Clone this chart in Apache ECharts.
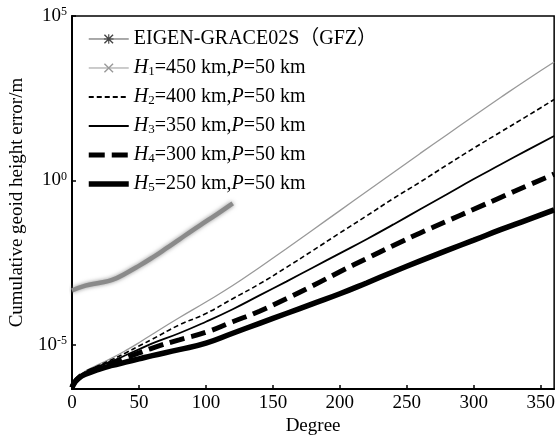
<!DOCTYPE html>
<html>
<head>
<meta charset="utf-8">
<script src="https://cdn.jsdelivr.net/npm/echarts@6/dist/echarts.min.js"></script>
<style>
  html, body { margin: 0; padding: 0; background: #fff; }
  #chart { width: 558px; height: 441px; }
</style>
</head>
<body>
<div id="chart"></div>
<script>
// degree (x) and log10 of cumulative geoid height error (y)
var degrees = [0, 2, 5, 10, 20, 30, 40, 50, 60, 80, 100, 120, 140, 160, 180, 200, 220, 240, 260, 280, 300, 320, 340, 360];
var h1 = [-6.3, -6.1, -5.95, -5.8, -5.6, -5.4, -5.18, -4.94, -4.68, -4.18, -3.7, -3.2, -2.65, -2.08, -1.5, -0.92, -0.34, 0.24, 0.82, 1.39, 1.96, 2.52, 3.07, 3.6];
var h2 = [-6.3, -6.12, -5.97, -5.83, -5.63, -5.45, -5.25, -5.04, -4.83, -4.4, -4.05, -3.6, -3.15, -2.65, -2.13, -1.6, -1.08, -0.55, -0.05, 0.47, 0.98, 1.47, 1.96, 2.46];
var h3 = [-6.3, -6.13, -5.98, -5.85, -5.66, -5.5, -5.32, -5.14, -4.96, -4.65, -4.3, -3.92, -3.5, -3.08, -2.65, -2.22, -1.79, -1.34, -0.88, -0.42, 0.04, 0.48, 0.92, 1.35];
var h4 = [-6.3, -6.14, -6.0, -5.87, -5.7, -5.55, -5.4, -5.25, -5.1, -4.85, -4.62, -4.3, -3.98, -3.6, -3.2, -2.78, -2.38, -1.98, -1.6, -1.24, -0.88, -0.52, -0.16, 0.19];
var h5 = [-6.3, -6.15, -6.02, -5.9, -5.75, -5.63, -5.53, -5.43, -5.33, -5.15, -4.95, -4.65, -4.35, -4.05, -3.75, -3.45, -3.12, -2.78, -2.45, -2.13, -1.82, -1.5, -1.2, -0.9];

var eigenDegrees = [0, 10, 20, 30, 40, 50, 60, 70, 80, 90, 100, 110, 120];
var eigen = [-3.35, -3.2, -3.12, -3.03, -2.83, -2.6, -2.35, -2.08, -1.8, -1.52, -1.25, -0.98, -0.7];

var yTicks = [-5, 0, 5];
var seriesNames = ['EIGEN-GRACE02S（GFZ）', 'H1', 'H2', 'H3', 'H4', 'H5'];
var heights = ['450', '400', '350', '300', '250'];

function pairs(xs, ys) {
    return xs.map(function (x, i) { return [x, ys[i]]; });
}

var serif = '"Liberation Serif", "Times New Roman", "Noto Sans CJK SC", serif';
var crossPath = 'path://M0,1L1,0L5,4L9,0L10,1L6,5L10,9L9,10L5,6L1,10L0,9L4,5Z';
var starPath = 'path://M0,1L1,0L5,4L9,0L10,1L6,5L10,9L9,10L5,6L1,10L0,9L4,5Z M4.4,0L5.6,0L5.6,10L4.4,10Z M0,4.4L10,4.4L10,5.6L0,5.6Z';

// legend entries: no marker on the plain line entries
var hidden = { opacity: 0 };

var chart = echarts.init(document.getElementById('chart'));

var option = {
    animation: false,
    backgroundColor: '#fff',
    grid: {
        left: 72, right: 2, top: 16, bottom: 46,
        show: true, borderColor: '#000', borderWidth: 1.5
    },
    legend: {
        orient: 'vertical',
        left: 81,
        top: 24,
        itemWidth: 40,
        itemHeight: 12,
        itemGap: 9,
        data: [
            { name: seriesNames[0], lineStyle: { width: 1, color: '#555', type: 'solid' }, itemStyle: { color: '#444' } },
            { name: seriesNames[1], lineStyle: { width: 1, color: '#999' }, itemStyle: { color: '#999' } },
            { name: seriesNames[2], lineStyle: { width: 2, color: '#000', type: [5, 3] }, itemStyle: hidden },
            { name: seriesNames[3], lineStyle: { width: 2.2, color: '#000' }, itemStyle: hidden },
            { name: seriesNames[4], lineStyle: { width: 5, color: '#000', type: [16, 7] }, itemStyle: hidden },
            { name: seriesNames[5], lineStyle: { width: 5.5, color: '#000' }, itemStyle: hidden }
        ],
        formatter: function (name) {
            if (name === seriesNames[0]) return '{n|' + name + '}';
            var k = parseInt(name.substring(1), 10);
            return '{i|H}{s|' + k + '}{n|=' + heights[k - 1] + ' km,}{i|P}{n|=50 km}';
        },
        textStyle: {
            fontFamily: serif,
            fontSize: 20,
            color: '#000',
            rich: {
                n: { fontFamily: serif, fontSize: 20, color: '#000', lineHeight: 20 },
                i: { fontFamily: serif, fontSize: 20, fontStyle: 'italic', color: '#000', lineHeight: 20 },
                s: { fontFamily: serif, fontSize: 13, color: '#000', verticalAlign: 'bottom', lineHeight: 11 }
            }
        }
    },
    xAxis: {
        type: 'value',
        min: 0, max: 360, interval: 50,
        name: 'Degree',
        nameLocation: 'middle',
        nameGap: 27,
        nameTextStyle: { fontFamily: serif, fontSize: 19, color: '#000' },
        axisLine: { onZero: false, lineStyle: { color: '#000', width: 2 } },
        axisTick: { inside: true, length: 4, lineStyle: { color: '#000', width: 1.5 } },
        axisLabel: { fontFamily: serif, fontSize: 19, color: '#000', margin: 4 },
        splitLine: { show: false }
    },
    yAxis: {
        type: 'value',
        min: -6.35, max: 5,
        name: 'Cumulative geoid height error/m',
        nameLocation: 'middle',
        nameGap: 45,
        nameTextStyle: { fontFamily: serif, fontSize: 19, color: '#000' },
        axisLine: { onZero: false, lineStyle: { color: '#000', width: 2 } },
        axisTick: { inside: true, length: 4, customValues: yTicks, lineStyle: { color: '#000', width: 1.5 } },
        axisLabel: {
            customValues: yTicks,
            margin: 5,
            formatter: function (v) { return '{b|10}{e|' + v + '}'; },
            rich: {
                b: { fontFamily: serif, fontSize: 19, color: '#000' },
                e: { fontFamily: serif, fontSize: 12, color: '#000', verticalAlign: 'top', padding: [0, 0, 8, 0] }
            }
        },
        splitLine: { show: false }
    },
    series: [
        {
            name: seriesNames[0], type: 'line', smooth: true, showSymbol: false,
            symbol: starPath, symbolSize: 7,
            data: pairs(eigenDegrees, eigen),
            itemStyle: { color: '#555' },
            lineStyle: { color: '#8a8a8a', width: 4.5, shadowColor: 'rgba(120,120,120,0.8)', shadowBlur: 4 }
        },
        {
            name: seriesNames[1], type: 'line', smooth: true, showSymbol: false,
            symbol: crossPath, symbolSize: 5,
            data: pairs(degrees, h1),
            itemStyle: { color: '#999' },
            lineStyle: { color: '#999', width: 1.3 }
        },
        {
            name: seriesNames[2], type: 'line', smooth: true, showSymbol: false,
            data: pairs(degrees, h2),
            itemStyle: { color: '#000' },
            lineStyle: { color: '#000', width: 1.6, type: [5, 3] }
        },
        {
            name: seriesNames[3], type: 'line', smooth: true, showSymbol: false,
            data: pairs(degrees, h3),
            itemStyle: { color: '#000' },
            lineStyle: { color: '#000', width: 1.8 }
        },
        {
            name: seriesNames[4], type: 'line', smooth: true, showSymbol: false,
            data: pairs(degrees, h4),
            itemStyle: { color: '#000' },
            lineStyle: { color: '#000', width: 5, type: [15, 7] }
        },
        {
            name: seriesNames[5], type: 'line', smooth: true, showSymbol: false,
            data: pairs(degrees, h5),
            itemStyle: { color: '#000' },
            lineStyle: { color: '#000', width: 5.5 }
        }
    ]
};

chart.setOption(option);
</script>
</body>
</html>
